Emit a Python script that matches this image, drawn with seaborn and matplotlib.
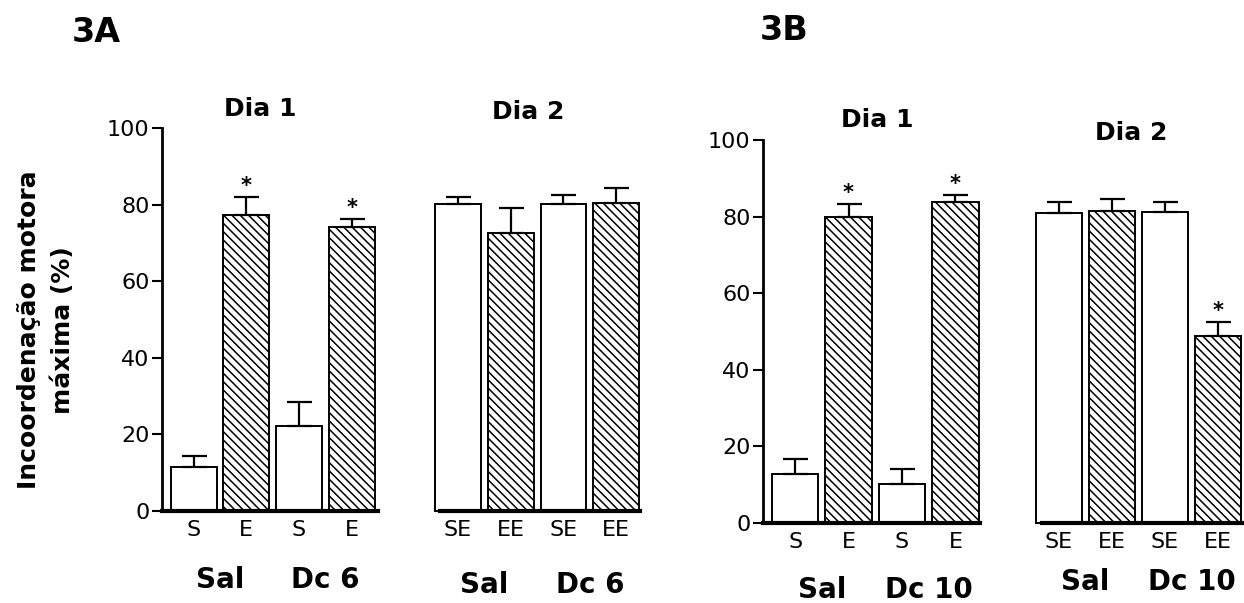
import matplotlib
matplotlib.use("Agg")
import matplotlib.pyplot as plt
import seaborn as sns
import numpy as np
import pandas as pd

# ---- data -------------------------------------------------------------
day1_ticks = ["S", "E", "S", "E"]
day2_ticks = ["SE", "EE", "SE", "EE"]
hatched = [False, True, False, True]

groups_a = ["Sal", "Dc 6"]
groups_b = ["Sal", "Dc 10"]

a_day1_mean = [11.5, 77.3, 22.2, 74.3]
a_day1_err = [2.8, 4.7, 6.2, 2.0]
a_day1_star = [False, True, False, True]

a_day2_mean = [80.2, 72.5, 80.1, 80.5]
a_day2_err = [1.9, 6.7, 2.5, 3.8]
a_day2_star = [False, False, False, False]

b_day1_mean = [12.6, 80.0, 10.1, 83.9]
b_day1_err = [4.0, 3.3, 3.9, 1.7]
b_day1_star = [False, True, False, True]

b_day2_mean = [80.8, 81.4, 81.1, 48.9]
b_day2_err = [3.1, 3.2, 2.8, 3.5]
b_day2_star = [False, False, False, True]

yticks = [0, 20, 40, 60, 80, 100]

# ---- style ------------------------------------------------------------
sns.set_style("ticks")
plt.rcParams["font.family"] = ["DejaVu Sans"]
plt.rcParams["hatch.linewidth"] = 1.1
for key in ["text.color", "axes.labelcolor", "xtick.color", "ytick.color",
            "axes.edgecolor"]:
    plt.rcParams[key] = "black"

W, H = 1244, 603
fig = plt.figure(figsize=(W / 100, H / 100), dpi=100)


def px_axes(x0, x1, y_top, y_bot):
    return fig.add_axes([x0 / W, 1 - y_bot / H, (x1 - x0) / W, (y_bot - y_top) / H])


def panel(ax, means, errs, stars, ticks, groups, xlim, with_y, group_y):
    keys = [f"{i}" for i in range(len(means))]
    df = pd.DataFrame({"key": keys, "val": means})
    sns.barplot(data=df, x="key", y="val", order=keys, color="white",
                saturation=1, edgecolor="black", linewidth=1.4, width=0.87,
                errorbar=None, ax=ax, zorder=2)
    for patch, h in zip(ax.patches, hatched):
        patch.set_clip_on(False)
        if h:
            patch.set_hatch("\\\\\\\\")
    eb = ax.errorbar(range(len(means)), means,
                     yerr=[np.zeros(len(errs)), errs], fmt="none",
                     ecolor="black", elinewidth=1.6, capsize=9, capthick=1.6,
                     zorder=3)
    for art in eb.lines[1] + eb.lines[2]:
        art.set_clip_on(False)
    for i, (m, e, s) in enumerate(zip(means, errs, stars)):
        if s:
            ax.annotate("*", (i, m + e), xytext=(0, 1), textcoords="offset points",
                        ha="center", va="bottom", fontsize=15, fontweight="bold")
    ax.set_ylim(0, 100)
    ax.set_xlim(*xlim)
    ax.set_xlabel("")
    ax.set_ylabel("")
    ax.set_xticks(range(len(ticks)))
    ax.set_xticklabels(ticks)
    ax.tick_params(axis="x", length=0, pad=7, labelsize=16)
    sns.despine(ax=ax)
    ax.spines["bottom"].set_linewidth(3)
    if with_y:
        ax.set_yticks(yticks)
        ax.tick_params(axis="y", length=7, width=1.5, pad=2, labelsize=16)
        ax.spines["left"].set_linewidth(2)
    else:
        ax.set_yticks([])
        ax.spines["left"].set_visible(False)
    tr = ax.get_xaxis_transform()
    for gx, g in zip([0.5, 2.5], groups):
        ax.text(gx, group_y, g, transform=tr, ha="center", va="center",
                fontsize=20, fontweight="bold")


ax1 = px_axes(162, 378, 128.3, 510.7)
panel(ax1, a_day1_mean, a_day1_err, a_day1_star, day1_ticks, groups_a,
      (-0.6, 3.5), True, -0.182)

ax2 = px_axes(440, 640, 128.3, 510.7)
panel(ax2, a_day2_mean, a_day2_err, a_day2_star, day2_ticks, groups_a,
      (-0.34, 3.45), False, -0.194)

ax3 = px_axes(763, 980, 140, 522.7)
panel(ax3, b_day1_mean, b_day1_err, b_day1_star, day1_ticks, groups_b,
      (-0.6, 3.46), True, -0.176)

ax4 = px_axes(1042, 1244, 140, 522.7)
panel(ax4, b_day2_mean, b_day2_err, b_day2_star, day2_ticks, groups_b,
      (-0.32, 3.49), False, -0.155)


def ftext(x, y, s, **kw):
    fig.text(x / W, 1 - y / H, s, ha="center", va="center", **kw)


ftext(96, 32, "3A", fontsize=24, fontweight="bold")
ftext(784, 31, "3B", fontsize=24, fontweight="bold")
ftext(260, 109, "Dia 1", fontsize=18, fontweight="bold")
ftext(528, 112, "Dia 2", fontsize=18, fontweight="bold")
ftext(877, 120, "Dia 1", fontsize=18, fontweight="bold")
ftext(1131, 133, "Dia 2", fontsize=18, fontweight="bold")
ftext(46, 330, "Incoordenação motora\nmáxima (%)", fontsize=18,
      fontweight="bold", rotation=90, multialignment="center",
      linespacing=1.5)

fig.savefig("out.png", dpi=100)
